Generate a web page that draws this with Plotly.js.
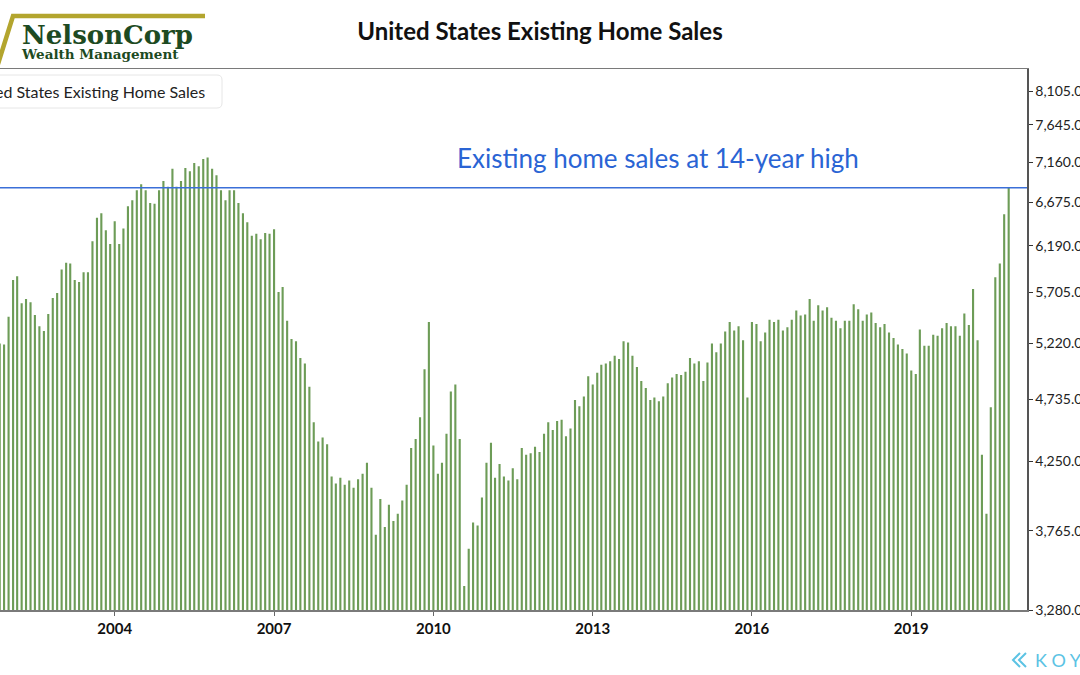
<!DOCTYPE html>
<html>
<head>
<meta charset="utf-8">
<script src="https://cdn.plot.ly/plotly-3.0.1.min.js"></script>
<style>
  html, body { margin: 0; padding: 0; background: #ffffff; }
  #chart { width: 1080px; height: 675px; }
</style>
</head>
<body>
<div id="chart"></div>
<script>
// ---------------- DATA ----------------
// Existing home sales, SAAR, thousands. Each bar is stamped at the first day of the month
// following the reported month (first bar stamped 2001-11).
const firstBarYear = 2001;
const firstBarMonth = 11;
const sales = [
  5220, 5210,                                                             // 2001-11 .. 2001-12
  5470, 5830, 5870, 5600, 5640, 5610, 5485, 5380, 5335, 5495, 5650, 5700, // 2002
  5940, 6010, 6000, 5830, 5810, 5910, 5910, 6240, 6500, 6550, 6360, 6210, // 2003
  6460, 6210, 6380, 6630, 6700, 6820, 6890, 6820, 6670, 6660, 6820, 6930, // 2004
  6860, 7080, 6860, 6930, 7090, 7050, 7150, 7110, 7200, 7220, 7080, 7000, // 2005
  6820, 6700, 6820, 6820, 6670, 6550, 6450, 6300, 6320, 6260, 6330, 6320, // 2006
  6370, 5710, 5760, 5430, 5260, 5240, 5090, 5040, 4840, 4550, 4400, 4430, // 2007
  4380, 4140, 4090, 4130, 4080, 4110, 4060, 4120, 4160, 4240, 4060, 3740, // 2008
  3980, 3790, 3940, 3830, 3880, 3970, 4080, 4350, 4420, 4590, 4990, 5420, // 2009
  4370, 4160, 4240, 4460, 4800, 4860, 4420, 3420, 3650, 3820, 3800, 3990, // 2010
  4240, 4390, 4130, 4230, 4140, 4110, 4200, 4120, 4350, 4300, 4310, 4360, // 2011
  4320, 4460, 4550, 4490, 4560, 4570, 4440, 4500, 4730, 4680, 4760, 4930, // 2012
  4860, 4960, 5030, 5040, 5060, 5110, 5080, 5240, 5230, 5110, 5010, 4890, // 2013
  4830, 4730, 4750, 4720, 4760, 4870, 4920, 4950, 4940, 4970, 5090, 5040, // 2014
  5060, 4890, 5050, 5220, 5140, 5220, 5330, 5420, 5340, 5380, 5250, 4750, // 2015
  5420, 5400, 5240, 5320, 5440, 5420, 5440, 5340, 5370, 5440, 5530, 5480, // 2016
  5490, 5640, 5430, 5580, 5530, 5560, 5460, 5430, 5360, 5430, 5430, 5590, // 2017
  5540, 5430, 5490, 5510, 5410, 5370, 5400, 5320, 5270, 5210, 5170, 5130, // 2018
  4980, 4950, 5350, 5200, 5200, 5300, 5290, 5360, 5410, 5380, 5380, 5290, // 2019
  5500, 5390, 5740, 5250, 4300, 3880, 4670, 5860, 6000, 6540, 6850        // 2020
];
const yTickVals = [3280, 3765, 4250, 4735, 5220, 5705, 6190, 6675, 7160, 7645, 8105];
const xTickYears = ['2004', '2007', '2010', '2013', '2016', '2019'];
const highLevel = 6850;
const seriesName = 'United States Existing Home Sales';
const calloutText = 'Existing home sales at 14-year high';
const logoName = 'NelsonCorp';
const logoSub = 'Wealth Management';
const brandText = 'K O Y F I N';

// ---------------- BUILD ----------------
const dates = sales.map((_, i) => {
  const m0 = firstBarMonth - 1 + i;
  const y = firstBarYear + Math.floor(m0 / 12);
  const m = (m0 % 12) + 1;
  return y + '-' + String(m).padStart(2, '0') + '-01';
});
const yTickText = yTickVals.map(v => v.toLocaleString('en-US', {minimumFractionDigits: 1, maximumFractionDigits: 1}));

const W = 1080, H = 675;
const M = {l: 0, r: 53, t: 69, b: 65};
const plotW = W - M.l - M.r, plotH = H - M.t - M.b;
// pixel -> paper helpers for decorations
const px = x => (x - M.l) / plotW;
const py = y => (H - M.b - y) / plotH;
const P = (x, y) => px(x) + ',' + py(y);

const yLo = Math.log10(3280), yHi = Math.log10(8424);
const highPaper = (Math.log10(highLevel) - yLo) / (yHi - yLo);

// rounded legend box (pixel extents)
const bx0 = -10, bx1 = 222, by0 = 75, by1 = 108, r = 5;
const legendBoxPath =
  'M ' + P(bx0 + r, by0) + ' L ' + P(bx1 - r, by0) + ' Q ' + P(bx1, by0) + ' ' + P(bx1, by0 + r) +
  ' L ' + P(bx1, by1 - r) + ' Q ' + P(bx1, by1) + ' ' + P(bx1 - r, by1) +
  ' L ' + P(bx0 + r, by1) + ' Q ' + P(bx0, by1) + ' ' + P(bx0, by1 - r) +
  ' L ' + P(bx0, by0 + r) + ' Q ' + P(bx0, by0) + ' ' + P(bx0 + r, by0) + ' Z';

const trace = {
  type: 'bar',
  x: dates,
  y: sales,
  name: seriesName,
  marker: {color: '#6d9c57', line: {width: 0}},
  hoverinfo: 'skip'
};

const layout = {
  width: W, height: H,
  margin: M,
  paper_bgcolor: '#ffffff',
  plot_bgcolor: '#ffffff',
  showlegend: false,
  bargap: 0.48,
  title: {
    text: seriesName,
    font: {family: 'Lato, sans-serif', size: 24, color: '#111111', weight: 'bold'},
    x: 0.5, xref: 'container', xanchor: 'center',
    y: 1 - 32 / H, yref: 'container', yanchor: 'middle'
  },
  xaxis: {
    type: 'date',
    range: ['2001-11-03', '2021-03-07'],
    tickvals: xTickYears.map(y => y + '-01-01'),
    ticktext: xTickYears,
    ticks: 'outside', ticklen: 4, tickcolor: '#666666', tickwidth: 1,
    showline: true, linecolor: '#7a7a7a', linewidth: 1.5, mirror: true,
    showgrid: false, zeroline: false,
    tickfont: {family: 'Lato, sans-serif', size: 15, color: '#111111', weight: 'bold'}
  },
  yaxis: {
    type: 'log',
    side: 'right',
    range: [yLo, yHi],
    tickvals: yTickVals,
    ticktext: yTickText,
    ticks: 'outside', ticklen: 4, tickcolor: '#333333', tickwidth: 1,
    showline: true, linecolor: '#555555', linewidth: 1.5,
    showgrid: false, zeroline: false,
    tickfont: {family: 'Lato, sans-serif', size: 14, color: '#222222'}
  },
  shapes: [
    { type: 'line', xref: 'paper', yref: 'paper', x0: 0, x1: 1, y0: highPaper, y1: highPaper,
      line: {color: '#3b6fd8', width: 1.5} },
    // legend box
    { type: 'path', xref: 'paper', yref: 'paper', path: legendBoxPath,
      fillcolor: '#ffffff', line: {color: '#e6e6e6', width: 1} },
    // logo bar
    { type: 'path', xref: 'paper', yref: 'paper',
      path: 'M ' + P(-2, 64) + ' L ' + P(13, 16) + ' L ' + P(205, 16),
      line: {color: '#b3a52e', width: 4.5} },
    // brand chevrons
    { type: 'path', xref: 'paper', yref: 'paper',
      path: 'M ' + P(1020, 653) + ' L ' + P(1013, 660) + ' L ' + P(1020, 667),
      line: {color: '#5cc3e4', width: 2} },
    { type: 'path', xref: 'paper', yref: 'paper',
      path: 'M ' + P(1026, 653) + ' L ' + P(1019, 660) + ' L ' + P(1026, 667),
      line: {color: '#5cc3e4', width: 2} }
  ],
  annotations: [
    { text: calloutText, xref: 'paper', yref: 'paper', x: px(658), y: py(158),
      xanchor: 'center', yanchor: 'middle', showarrow: false,
      font: {family: 'Lato, sans-serif', size: 26, color: '#2a64d4'} },
    { text: seriesName, xref: 'paper', yref: 'paper', x: px(207), y: py(92),
      xanchor: 'right', yanchor: 'middle', showarrow: false,
      font: {family: 'Lato, sans-serif', size: 16, color: '#222222'} },
    { text: '<span style="font-size:26px">' + logoName + '</span><br>' +
            '<span style="font-size:13.5px">' + logoSub + '</span>',
      xref: 'paper', yref: 'paper', x: px(19), y: py(41),
      xanchor: 'left', yanchor: 'middle', align: 'left', showarrow: false,
      font: {family: 'DejaVu Serif, serif', size: 11.5, color: '#1d4a22', weight: 'bold'} },
    { text: brandText, xref: 'paper', yref: 'paper', x: px(1033), y: py(660),
      xanchor: 'left', yanchor: 'middle', showarrow: false,
      font: {family: 'Lato, sans-serif', size: 18, color: '#5cc3e4'} }
  ]
};

Plotly.newPlot('chart', [trace], layout, {staticPlot: true, displayModeBar: false});
</script>
</body>
</html>
